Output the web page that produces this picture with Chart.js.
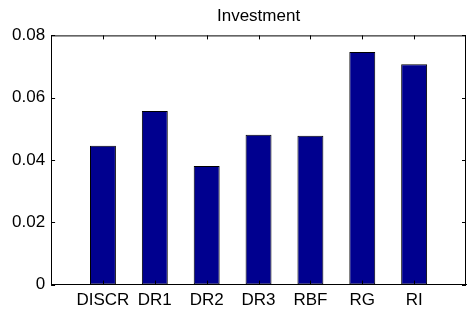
<!DOCTYPE html>
<html>
<head>
<meta charset="utf-8">
<script src="https://cdn.jsdelivr.net/npm/chart.js@4"></script>
<style>
  html, body { margin: 0; padding: 0; background: #fff; }
  #wrap { width: 468px; height: 313px; position: relative; }
</style>
</head>
<body>
<div id="wrap"><canvas id="c" width="468" height="313"></canvas></div>
<script>
const categories = ["DISCR", "DR1", "DR2", "DR3", "RBF", "RG", "RI"];
const investment = [0.0446, 0.0557, 0.0381, 0.0481, 0.0478, 0.0747, 0.0707];
const yTicks = [0, 0.02, 0.04, 0.06, 0.08];
const titleText = "Investment";

const FONT = "'Liberation Sans', Arial, sans-serif";

const innerTicks = {
  id: 'innerTicks',
  afterDraw(chart) {
    const { ctx, chartArea: a, scales } = chart;
    const xs = scales.x, ys = scales.y;
    const L = 4;
    ctx.save();
    ctx.strokeStyle = '#000';
    ctx.lineWidth = 1;
    ctx.beginPath();
    ctx.moveTo(a.left, a.top + 0.5); ctx.lineTo(a.right, a.top + 0.5);
    ctx.moveTo(a.right - 0.5, a.top); ctx.lineTo(a.right - 0.5, a.bottom);
    yTicks.forEach(v => {
      const y = Math.round(ys.getPixelForValue(v)) + 0.5;
      ctx.moveTo(a.left, y); ctx.lineTo(a.left + L, y);
      ctx.moveTo(a.right, y); ctx.lineTo(a.right - L, y);
    });
    categories.forEach((c, i) => {
      const x = Math.round(xs.getPixelForValue(i + 1)) + 0.5;
      ctx.moveTo(x, a.bottom); ctx.lineTo(x, a.bottom - L);
      ctx.moveTo(x, a.top); ctx.lineTo(x, a.top + L);
    });
    ctx.stroke();
    ctx.restore();
  }
};

new Chart(document.getElementById('c'), {
  type: 'bar',
  data: {
    datasets: [{
      data: investment.map((v, i) => ({ x: i + 1, y: v })),
      backgroundColor: '#00008F',
      borderColor: '#000000',
      borderWidth: 1,
      borderSkipped: false,
      categoryPercentage: 1,
      barPercentage: 0.5
    }]
  },
  options: {
    responsive: false,
    animation: false,
    devicePixelRatio: 1,
    layout: { padding: { left: 6, right: 2, top: 0, bottom: -4 } },
    plugins: {
      legend: { display: false },
      tooltip: { enabled: false },
      title: {
        display: true,
        fullSize: false,
        text: titleText,
        color: '#000',
        font: { family: FONT, size: 17, weight: 'normal' },
        padding: { top: 6, bottom: 9 }
      }
    },
    scales: {
      x: {
        type: 'linear',
        offset: false,
        min: 0, max: 8,
        afterBuildTicks: axis => { axis.ticks = categories.map((c, i) => ({ value: i + 1 })); },
        ticks: {
          autoSkip: false, maxRotation: 0, minRotation: 0,
          color: '#000', padding: 6,
          font: { family: FONT, size: 17 },
          callback: v => categories[v - 1]
        },
        grid: { display: false, drawTicks: false },
        border: { display: true, color: '#000', width: 1 }
      },
      y: {
        min: 0, max: 0.08,
        afterBuildTicks: axis => { axis.ticks = yTicks.map(v => ({ value: v })); },
        ticks: {
          color: '#000', padding: 6,
          font: { family: FONT, size: 17 },
          callback: v => String(Math.round(v * 100) / 100)
        },
        grid: { display: false, drawTicks: false },
        border: { display: true, color: '#000', width: 1 }
      }
    }
  },
  plugins: [innerTicks]
});
</script>
</body>
</html>
